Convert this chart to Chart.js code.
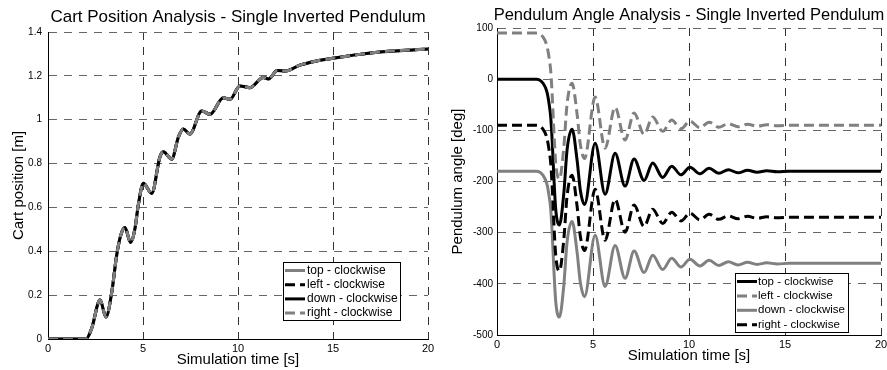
<!DOCTYPE html>
<html>
<head>
<meta charset="utf-8">
<script src="https://cdn.jsdelivr.net/npm/chart.js@4.4.0/dist/chart.umd.min.js"></script>
<style>
  html, body { margin: 0; padding: 0; background: #fff; }
  .wrap { position: relative; width: 887px; height: 370px; overflow: hidden; }
  #cartChart { position: absolute; left: 0; top: 0; }
  #angleChart { position: absolute; left: 443px; top: 0; }
</style>
</head>
<body>
<div class="wrap">
  <canvas id="cartChart" width="443" height="370"></canvas>
  <canvas id="angleChart" width="444" height="370"></canvas>
</div>
<script>
const FONT = "'Liberation Sans', Arial, Helvetica, sans-serif";
const GRAY = "#808080";
const BLACK = "#000000";
const LINE_DASH = [10, 5];

const seriesLabels = ["top - clockwise", "left - clockwise", "down - clockwise", "right - clockwise"];

// tick labels
const timeTicks = [0, 5, 10, 15, 20];
const cartTicks = [0, 0.2, 0.4, 0.6, 0.8, 1, 1.2, 1.4];
const angleTicks = [-500, -400, -300, -200, -100, 0, 100];

// cart position [m] over time [s] -- the four runs lie on one curve
const cartTime = [0, 2.0, 2.3, 2.74, 3.05, 3.35, 3.61, 3.82, 4.05, 4.35, 4.58, 4.75, 5.02, 5.46, 5.89, 6.07, 6.51, 6.86, 7.12, 7.47, 8.09, 8.53, 9.23, 9.58, 10.1, 10.63, 11.33, 11.6, 12.07, 12.5, 13.26, 14.14, 15.0, 16.4, 17.6, 20];
const cartPos = [0, 0, 0.049, 0.178, 0.10, 0.21, 0.38, 0.47, 0.508, 0.44, 0.505, 0.61, 0.71, 0.664, 0.83, 0.854, 0.82, 0.92, 0.958, 0.935, 1.04, 1.025, 1.10, 1.093, 1.154, 1.146, 1.193, 1.186, 1.224, 1.222, 1.249, 1.268, 1.28, 1.298, 1.31, 1.322];

// pendulum angle [deg] over time [s]
const angleTime = [0, 2.05, 2.4, 2.6, 2.72, 2.8, 2.88, 2.96, 3.06, 3.25, 3.48, 3.65, 3.91, 4.17, 4.34, 4.56, 5.11, 5.63, 6.15, 6.67, 7.14, 7.66, 8.11, 8.63, 9.1, 9.58, 10.05, 10.57, 11.05, 11.55, 12.05, 12.55, 13.05, 13.55, 14.05, 14.6, 15.2, 20];
const angleTop = [0, 0, -8, -25, -50, -75, -125, -190, -255, -285, -223, -138, -98, -158, -217, -245, -125, -225, -145, -209, -156, -198, -164, -192, -170, -187, -172, -185, -174, -184, -177, -183, -178, -182, -179, -181, -180, -180];
const angleLeft = [90, 90, 82, 65, 40, 15, -35, -100, -165, -195, -133, -48, -8, -68, -127, -155, -35, -135, -55, -119, -66, -108, -74, -102, -80, -97, -82, -95, -84, -94, -87, -93, -88, -92, -89, -91, -90, -90];
const angleDown = [-180, -180, -188, -205, -230, -255, -305, -370, -435, -465, -403, -318, -278, -338, -397, -425, -305, -405, -325, -389, -336, -378, -344, -372, -350, -367, -352, -365, -354, -364, -357, -363, -358, -362, -359, -361, -360, -360];
const angleRight = [-90, -90, -98, -115, -140, -165, -215, -280, -345, -375, -313, -228, -188, -248, -307, -335, -215, -315, -235, -299, -246, -288, -254, -282, -260, -277, -262, -275, -264, -274, -267, -273, -268, -272, -269, -271, -270, -270];

// title above the plot box + boxed legend inside it (matlab style)
const figureDecor = {
  id: "figureDecor",
  afterDraw(chart, args, o) {
    const { ctx, chartArea } = chart;
    ctx.save();
    ctx.fillStyle = "#000";
    ctx.font = `${o.titleSize}px ${FONT}`;
    ctx.textAlign = "center";
    ctx.textBaseline = "alphabetic";
    ctx.fillText(o.title, (chartArea.left + chartArea.right) / 2, o.titleY);

    const b = o.legend;
    ctx.fillStyle = "#fff";
    ctx.fillRect(b.x, b.y, b.w, b.h);
    ctx.setLineDash([]);
    ctx.lineWidth = 1;
    ctx.strokeStyle = "#000";
    ctx.strokeRect(b.x + 0.5, b.y + 0.5, b.w, b.h);
    ctx.font = `${b.size}px ${FONT}`;
    ctx.textAlign = "left";
    ctx.textBaseline = "middle";
    chart.data.datasets.forEach((ds, i) => {
      const y = b.y + b.first + i * b.step;
      ctx.beginPath();
      ctx.lineWidth = 3;
      ctx.strokeStyle = ds.borderColor;
      ctx.setLineDash(ds.borderDash || []);
      ctx.moveTo(b.x + 2, y);
      ctx.lineTo(b.x + 22, y);
      ctx.stroke();
      ctx.setLineDash([]);
      ctx.fillStyle = "#000";
      ctx.fillText(ds.label, b.x + b.tx, y);
    });
    ctx.restore();
  },
};

function series(label, xs, ys, color, dashed, order) {
  return {
    label,
    data: xs.map((x, i) => ({ x, y: ys[i] })),
    borderColor: color,
    borderWidth: 3,
    borderDash: dashed ? LINE_DASH : [],
    borderCapStyle: "butt",
    pointRadius: 0,
    cubicInterpolationMode: "monotone",
    fill: false,
    order,
  };
}

function axes(a) {
  return {
    x: {
      type: "linear", min: 0, max: 20,
      afterBuildTicks: (s) => { s.ticks = timeTicks.map((v) => ({ value: v })); },
      ticks: { font: { family: FONT, size: 11 }, color: "#000", padding: 3, maxRotation: 0, autoSkip: false, callback: (v) => String(v) },
      grid: { color: "#333", lineWidth: 1, drawTicks: false },
      border: { display: true, color: "#000", width: 1, dash: [8, 7] },
      title: { display: true, text: "Simulation time [s]", color: "#000", font: { family: FONT, size: 15 }, padding: { top: 0, bottom: a.xTitlePad } },
      afterFit: (s) => { s.height = a.xHeight; s.paddingLeft = 0; s.paddingRight = 0; },
    },
    y: {
      type: "linear", min: a.yTicks[0], max: a.yTicks[a.yTicks.length - 1],
      afterBuildTicks: (s) => { s.ticks = a.yTicks.map((v) => ({ value: v })); },
      ticks: { font: { family: FONT, size: 10 }, color: "#000", padding: a.yTickPad, autoSkip: false, callback: (v) => String(v) },
      grid: { color: "#666", lineWidth: 1, drawTicks: false },
      border: { display: true, color: "#000", width: 1, dash: [8, 7] },
      title: { display: true, text: a.yTitle, color: "#000", font: { family: FONT, size: 15 }, padding: { top: a.yTitlePad, bottom: 0 } },
      afterFit: (s) => { s.width = a.yWidth; s.paddingTop = 0; s.paddingBottom = 0; },
    },
  };
}

function baseOptions(extra) {
  return {
    responsive: false,
    animation: false,
    devicePixelRatio: 1,
    plugins: { legend: { display: false }, tooltip: { enabled: false }, figureDecor: extra.decor },
    layout: { padding: extra.padding },
    scales: extra.scales,
  };
}

new Chart(document.getElementById("cartChart"), {
  type: "line",
  data: {
    datasets: [
      series(seriesLabels[0], cartTime, cartPos, GRAY, false, 4),
      series(seriesLabels[1], cartTime, cartPos, BLACK, true, 3),
      series(seriesLabels[2], cartTime, cartPos, BLACK, false, 2),
      series(seriesLabels[3], cartTime, cartPos, GRAY, true, 1),
    ],
  },
  options: baseOptions({
    padding: { top: 32, right: 15, bottom: 0, left: 0 },
    scales: axes({ yTicks: cartTicks, yTitle: "Cart position [m]", yWidth: 48, yTickPad: 6, yTitlePad: 10, xHeight: 31, xTitlePad: 1.5 }),
    decor: {
      title: "Cart Position Analysis - Single Inverted Pendulum", titleSize: 17, titleY: 21.5,
      legend: { x: 283, y: 262, w: 117, h: 58, first: 8.5, step: 14.2, tx: 24, size: 12 },
    },
  }),
  plugins: [figureDecor],
});

new Chart(document.getElementById("angleChart"), {
  type: "line",
  data: {
    datasets: [
      series(seriesLabels[0], angleTime, angleTop, BLACK, false, 4),
      series(seriesLabels[1], angleTime, angleLeft, GRAY, true, 3),
      series(seriesLabels[2], angleTime, angleDown, GRAY, false, 2),
      series(seriesLabels[3], angleTime, angleRight, BLACK, true, 1),
    ],
  },
  options: baseOptions({
    padding: { top: 28, right: 6, bottom: 0, left: 0 },
    scales: axes({ yTicks: angleTicks, yTitle: "Pendulum angle [deg]", yWidth: 54, yTickPad: 4, yTitlePad: 6, xHeight: 35, xTitlePad: 5.3 }),
    decor: {
      title: "Pendulum Angle Analysis - Single Inverted Pendulum", titleSize: 16.5, titleY: 19.5,
      legend: { x: 292, y: 273, w: 113, h: 59, first: 8.5, step: 14.4, tx: 23, size: 11.5 },
    },
  }),
  plugins: [figureDecor],
});
</script>
</body>
</html>
